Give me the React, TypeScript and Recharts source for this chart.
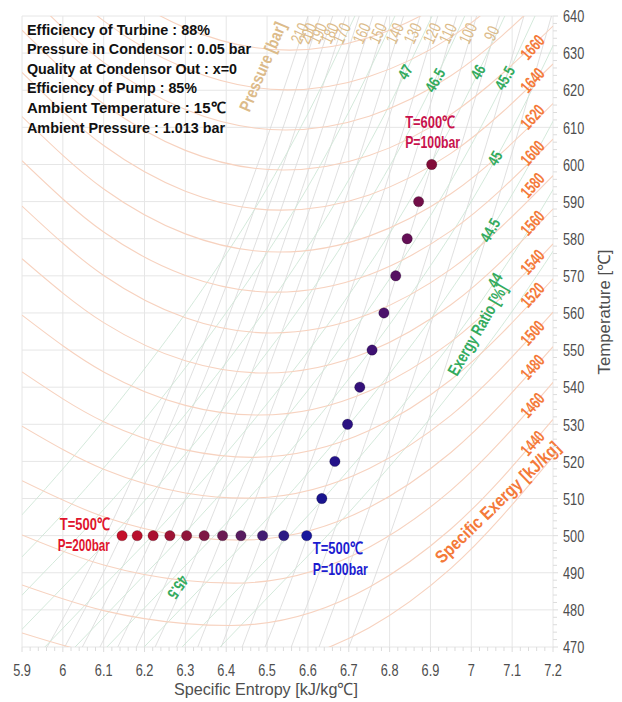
import React from 'react';
import { ComposedChart, Line, Scatter, XAxis, YAxis, CartesianGrid, ReferenceDot } from 'recharts';

const FONT = "'Liberation Sans', Arial, Helvetica, sans-serif";

// ---------- axes ----------
const xTickLabels = [5.9, 6.0, 6.1, 6.2, 6.3, 6.4, 6.5, 6.6, 6.7, 6.8, 6.9, 7.0, 7.1, 7.2];
const yTickLabels = [470, 480, 490, 500, 510, 520, 530, 540, 550, 560, 570, 580, 590, 600, 610, 620, 630, 640];
const xMinorTicks = Array.from({ length: 66 }, (_, i) => +(5.9 + i * 0.02).toFixed(2));
const yMinorTicks = Array.from({ length: 86 }, (_, i) => 470 + i * 2);

// ---------- cycle state points ----------
const heatEntropy = [6.145, 6.182, 6.221, 6.262, 6.303, 6.346, 6.391, 6.436, 6.489, 6.541, 6.597];
const heatTemp = [500, 500, 500, 500, 500, 500, 500, 500, 500, 500, 500];
const superEntropy = [6.634, 6.666, 6.697, 6.727, 6.757, 6.786, 6.815, 6.843, 6.871, 6.903];
const superTemp = [510, 520, 530, 540, 550, 560, 570, 580, 590, 600];
const heatColors = ['#c4102a', '#b8102d', '#ab1030', '#9e1234', '#8f1439', '#7e1744', '#6b1a52', '#581c60', '#421c72', '#2c1a84', '#18169c'];
const superColors = ['#1a148e', '#24128a', '#2c1282', '#34117a', '#3e1172', '#4a106a', '#561062', '#640f56', '#720e48', '#820c38'];

// ---------- specific exergy curves [kJ/kg] ----------
const exergyLevels = [1420, 1440, 1460, 1480, 1500, 1520, 1540, 1560, 1580, 1600, 1620, 1640, 1660, 1680, 1700, 1720];
const exergyLeftS = [5.9, 6.1, 6.3];
const exergyRightS = [6.75, 6.95, 7.2];
const exergyMinS = [6.40, 6.41, 6.42, 6.435, 6.45, 6.465, 6.48, 6.495, 6.51, 6.52, 6.53, 6.535, 6.54, 6.545, 6.55, 6.555];
const exergyT = [
  [473.8, 467.7, 464.7, 464.3, 475.2, 491.2, 521.3],
  [486.7, 479.8, 476.3, 475.8, 486.1, 501.8, 531.3],
  [500.2, 492.1, 487.9, 487.2, 496.9, 512.2, 541.3],
  [514.8, 505.1, 499.8, 498.8, 507.6, 522.4, 550.9],
  [529.5, 517.9, 511.5, 510.1, 518.1, 532.4, 560.2],
  [544.1, 530.7, 523.1, 521.1, 528.3, 542.0, 569.2],
  [559.4, 544.1, 535.1, 532.5, 539.0, 552.2, 578.6],
  [574.6, 557.4, 547.1, 543.8, 549.6, 562.2, 588.0],
  [588.8, 570.1, 558.7, 554.6, 559.7, 571.8, 597.0],
  [601.0, 581.8, 570.1, 565.6, 570.3, 582.1, 606.8],
  [612.9, 593.4, 581.3, 576.4, 580.7, 592.1, 616.4],
  [624.8, 605.1, 592.8, 587.7, 591.8, 603.0, 627.1],
  [636.2, 616.3, 603.8, 598.5, 602.4, 613.5, 637.3],
  [647.6, 627.5, 614.8, 609.3, 613.0, 623.9, 647.5],
  [659.0, 638.7, 625.9, 620.1, 623.7, 634.3, 657.7],
  [670.3, 649.8, 636.8, 630.8, 634.2, 644.7, 667.0],
];
const exergyLabelLevels = [1440, 1460, 1480, 1500, 1520, 1540, 1560, 1580, 1600, 1620, 1640, 1660];
const exergyLabelT = [524.9, 535.1, 545.4, 554.6, 564.8, 573.7, 584.2, 594.4, 603.1, 612.8, 622.7, 631.6];
const exergyLabelS = 7.15;

// ---------- isobars [bar] ----------
const pressureLevels = [210, 200, 190, 180, 170, 160, 150, 140, 130, 120, 110, 100, 90, 80, 70];
const pressureT = [450, 500, 550, 600, 650];
const pressureS = [
  [5.855, 6.105, 6.302, 6.477, 6.630],
  [5.904, 6.143, 6.339, 6.508, 6.659],
  [5.951, 6.182, 6.374, 6.540, 6.690],
  [5.998, 6.221, 6.410, 6.572, 6.722],
  [6.045, 6.261, 6.447, 6.606, 6.755],
  [6.093, 6.303, 6.483, 6.641, 6.788],
  [6.140, 6.346, 6.520, 6.678, 6.822],
  [6.200, 6.391, 6.565, 6.720, 6.862],
  [6.258, 6.437, 6.607, 6.762, 6.902],
  [6.320, 6.489, 6.655, 6.807, 6.945],
  [6.370, 6.541, 6.705, 6.855, 6.990],
  [6.422, 6.600, 6.758, 6.903, 7.040],
  [6.490, 6.660, 6.817, 6.961, 7.095],
  [6.558, 6.727, 6.880, 7.022, 7.155],
  [6.630, 6.800, 6.950, 7.091, 7.222],
];
const pressureLabelLevels = [210, 200, 190, 180, 170, 160, 150, 140, 130, 120, 110, 100, 90];
const pressureLabelS = [6.58, 6.60, 6.625, 6.654, 6.683, 6.732, 6.771, 6.813, 6.857, 6.904, 6.943, 6.992, 7.05];
const pressureLabelT = 635.3;

// ---------- exergy ratio [%] ----------
const ratioLevels = [48, 47.5, 47, 46.5, 46, 45.5, 45, 44.5, 44, 43.5];
const ratioT = [470, 482.6, 509.5, 536.5, 563.4, 590.4, 617.4, 640];
const ratioS = [
  [5.589, 5.699, 5.932, 6.140, 6.323, 6.483, 6.617, 6.715],
  [5.687, 5.797, 6.030, 6.238, 6.421, 6.581, 6.715, 6.813],
  [5.778, 5.888, 6.120, 6.328, 6.512, 6.671, 6.806, 6.904],
  [5.858, 5.969, 6.201, 6.409, 6.593, 6.752, 6.887, 6.984],
  [5.956, 6.066, 6.299, 6.507, 6.691, 6.850, 6.984, 7.082],
  [6.030, 6.140, 6.372, 6.581, 6.764, 6.923, 7.058, 7.156],
  [6.108, 6.218, 6.451, 6.659, 6.842, 7.002, 7.136, 7.234],
  [6.199, 6.309, 6.541, 6.749, 6.933, 7.092, 7.227, 7.325],
  [6.292, 6.402, 6.634, 6.842, 7.026, 7.185, 7.320, 7.418],
  [6.385, 6.495, 6.727, 6.935, 7.119, 7.278, 7.413, 7.511],
];
const ratioLabels = ['47', '46.5', '46', '45.5', '45', '44.5', '44'];
const ratioLabelS = [6.838, 6.911, 7.016, 7.082, 7.058, 7.046, 7.058];
const ratioLabelT = [624.9, 622.7, 624.9, 623.3, 601.7, 582.3, 568.8];

// ---------- text ----------
const infoLines = [
  'Efficiency of Turbine : 88%',
  'Pressure in Condensor : 0.05 bar',
  'Quality at Condensor Out : x=0',
  'Efficiency of Pump : 85%',
  'Ambient Temperature : 15\u2103',
  'Ambient Pressure : 1.013 bar',
];
const infoWidths = [183, 224, 210, 170, 198, 198];
const infoBaselines = [35, 54, 74, 93, 113, 133];

// ---------- derived tables ----------
const cyclePoints = [
  ...heatEntropy.map((s, i) => ({ s, t: heatTemp[i], color: heatColors[i] })),
  ...superEntropy.map((s, i) => ({ s, t: superTemp[i], color: superColors[i] })),
];
const exergyCurves = exergyLevels.map((lv, i) => ({
  lv,
  pts: [
    ...exergyLeftS.map((s, j) => ({ s, t: exergyT[i][j] })),
    { s: exergyMinS[i], t: exergyT[i][3] },
    ...exergyRightS.map((s, j) => ({ s, t: exergyT[i][4 + j] })),
  ],
}));
const pressureCurves = pressureLevels.map((p, i) => ({ p, pts: pressureT.map((t, j) => ({ s: pressureS[i][j], t })) }));
const ratioCurves = ratioLevels.map((r, i) => ({ r, pts: ratioT.map((t, j) => ({ s: ratioS[i][j], t })) }));

function CText({ x, y, text, size = 15, fill = '#555', weight = 'normal', anchor = 'start', rotate = 0, sx = 1, len, baseline = 'central' }: any) {
  return (
    <text
      x={0}
      y={0}
      transform={`translate(${x},${y}) rotate(${rotate}) scale(${sx},1)`}
      fontSize={size}
      fill={fill}
      fontWeight={weight}
      textAnchor={anchor}
      dominantBaseline={baseline}
      fontFamily={FONT}
      textLength={len}
      lengthAdjust={len ? 'spacingAndGlyphs' : undefined}
    >
      {text}
    </text>
  );
}

const isMajor = (v: number, step: number) => Math.abs(v / step - Math.round(v / step)) < 1e-6;

const XTick = (p: any) => {
  const v = p.payload.value;
  const major = isMajor(v, 0.1);
  return (
    <g>
      <line x1={p.x} x2={p.x} y1={p.y} y2={p.y + (major ? 5 : 4)} stroke="#dcdcdc" />
      {major && <CText x={p.x} y={p.y + 23} text={String(Math.round(v * 10) / 10)} anchor="middle" size={17} sx={0.75} fill="#4e4e4e" />}
    </g>
  );
};
const YTick = (p: any) => {
  const v = p.payload.value;
  const major = isMajor(v, 10);
  return (
    <g>
      <line x1={p.x} x2={p.x + (major ? 5 : 4)} y1={p.y} y2={p.y} stroke="#dcdcdc" />
      {major && <CText x={p.x + 10} y={p.y} text={String(v)} anchor="start" size={17} sx={0.75} fill="#4e4e4e" />}
    </g>
  );
};

function labelDot(key: string, s: number, t: number, props: any) {
  return (
    <ReferenceDot
      key={key}
      x={s}
      y={t}
      r={1}
      ifOverflow="visible"
      isFront
      shape={(p: any) => <CText x={p.cx} y={p.cy} {...props} />}
    />
  );
}

export default function App() {
  return (
    <div style={{ position: 'absolute', left: 0, top: 0, width: 622, height: 702, background: '#fff' }}>
      <ComposedChart width={622} height={702} margin={{ top: 16, right: 0, bottom: 0, left: 22 }}>
        <CartesianGrid stroke="#e6e6e6" verticalValues={xTickLabels} horizontalValues={yTickLabels} />
        <XAxis
          type="number"
          dataKey="s"
          domain={[5.9, 7.2]}
          ticks={xMinorTicks}
          interval={0}
          allowDataOverflow
          height={55}
          tickLine={false}
          axisLine={false}
          tickSize={0}
          tickMargin={0}
          tick={XTick}
        />
        <YAxis
          type="number"
          dataKey="t"
          orientation="right"
          domain={[470, 640]}
          ticks={yMinorTicks}
          interval={0}
          allowDataOverflow
          width={69}
          tickLine={false}
          axisLine={false}
          tickSize={0}
          tickMargin={0}
          tick={YTick}
        />
        {pressureCurves.map((c) => (
          <Line key={'p' + c.p} data={c.pts} dataKey="t" type="monotone" stroke="#d8d8d8" strokeWidth={0.8} dot={false} activeDot={false} isAnimationActive={false} />
        ))}
        {ratioCurves.map((c) => (
          <Line key={'r' + c.r} data={c.pts} dataKey="t" type="monotone" stroke="#cfe7d7" strokeWidth={0.9} dot={false} activeDot={false} isAnimationActive={false} />
        ))}
        {exergyCurves.map((c) => (
          <Line key={'e' + c.lv} data={c.pts} dataKey="t" type="monotone" stroke="#f7d2bf" strokeWidth={1.1} dot={false} activeDot={false} isAnimationActive={false} />
        ))}
        <Scatter
          data={cyclePoints}
          isAnimationActive={false}
          shape={(p: any) => <circle cx={p.cx} cy={p.cy} r={5.2} fill={p.payload.color} stroke="rgba(0,0,0,0.25)" strokeWidth={0.8} />}
        />
        {exergyLabelLevels.map((lv, i) =>
          labelDot('el' + lv, exergyLabelS, exergyLabelT[i], { text: String(lv), anchor: 'middle', size: 17, sx: 0.7, rotate: -48, fill: '#f47a3a', weight: 'bold' })
        )}
        {pressureLabelLevels.map((lv, i) =>
          labelDot('pl' + lv, pressureLabelS[i], pressureLabelT, { text: String(lv), anchor: 'middle', size: 17, sx: 0.72, rotate: -65, fill: '#dcbb8a' })
        )}
        {ratioLabels.map((lb, i) =>
          labelDot('rl' + lb, ratioLabelS[i], ratioLabelT[i], { text: lb, anchor: 'middle', size: 16, sx: 0.78, rotate: -60, fill: '#34ab5e', weight: 'bold' })
        )}
        {labelDot('rl-low', 6.282, 486.1, { text: '45.5', anchor: 'middle', size: 16, sx: 0.78, rotate: 125, fill: '#34ab5e', weight: 'bold' })}
        {labelDot('ratioTitle', 7.016, 555.4, { text: 'Exergy Ratio [%]', anchor: 'middle', size: 17, len: 102, rotate: -60, fill: '#34ab5e', weight: 'bold' })}
        {labelDot('exTitle', 7.065, 509, { text: 'Specific Exergy [kJ/kg]', anchor: 'middle', size: 18, len: 166, rotate: -44, fill: '#f47a3a', weight: 'bold' })}
        {labelDot('pTitle', 6.49, 626.3, { text: 'Pressure [bar]', anchor: 'middle', size: 17, len: 95, rotate: -67, fill: '#dcbb8a', weight: 'bold' })}
        {labelDot('a1', 6.115, 503.1, { text: 'T=500\u2103', anchor: 'end', size: 17, len: 50, fill: '#e0142c', weight: 'bold' })}
        {labelDot('a2', 6.115, 497.4, { text: 'P=200bar', anchor: 'end', size: 17, len: 52, fill: '#e0142c', weight: 'bold' })}
        {labelDot('b1', 6.612, 496.6, { text: 'T=500\u2103', anchor: 'start', size: 17, len: 50, fill: '#1c1cd0', weight: 'bold' })}
        {labelDot('b2', 6.612, 491.0, { text: 'P=100bar', anchor: 'start', size: 17, len: 55, fill: '#1c1cd0', weight: 'bold' })}
        {labelDot('c1', 6.838, 611.2, { text: 'T=600\u2103', anchor: 'start', size: 17, len: 50, fill: '#c8124c', weight: 'bold' })}
        {labelDot('c2', 6.838, 605.8, { text: 'P=100bar', anchor: 'start', size: 17, len: 55, fill: '#c8124c', weight: 'bold' })}
      </ComposedChart>
      <svg width={622} height={702} style={{ position: 'absolute', left: 0, top: 0, pointerEvents: 'none' }}>
        {infoLines.map((ln, i) => (
          <CText key={ln} x={27} y={infoBaselines[i]} text={ln} size={15.5} weight="bold" fill="#111" len={infoWidths[i]} baseline="auto" />
        ))}
        <CText x={174} y={695} text={'Specific Entropy [kJ/kg\u2103]'} size={17} len={184} baseline="auto" fill="#4e4e4e" />
        <CText x={604} y={312} text={'Temperature [\u2103]'} size={17} len={125} rotate={-90} anchor="middle" fill="#4e4e4e" />
      </svg>
    </div>
  );
}
